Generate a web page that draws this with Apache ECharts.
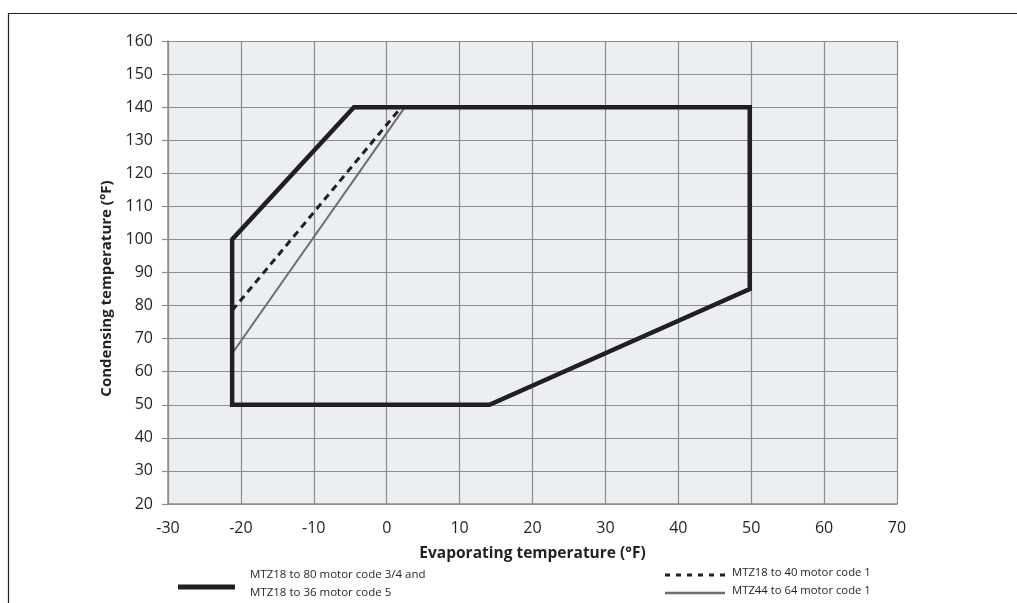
<!DOCTYPE html>
<html>
<head>
<meta charset="utf-8">
<script src="https://cdn.jsdelivr.net/npm/echarts@6/dist/echarts.min.js"></script>
<style>
html,body{margin:0;padding:0;background:#fff;}
#chart{width:1017px;height:603px;}
</style>
</head>
<body>
<div id="chart"></div>
<script>
// Data (°F)
const envelopeName = 'MTZ18 to 80 motor code 3/4 and\nMTZ18 to 36 motor code 5';
const envelopeX = [-21.2, -21.2, -4.5, 49.8, 49.8, 14.1, -21.2];
const envelopeY = [50, 100, 140, 140, 85, 50, 50];

const dashedName = 'MTZ18 to 40 motor code 1';
const dashedX = [-21.2, 2.0];
const dashedY = [78.5, 140];

const grayName = 'MTZ44 to 64 motor code 1';
const grayX = [-21.2, 2.5];
const grayY = [65.5, 140];

const xTicks = [-30, -20, -10, 0, 10, 20, 30, 40, 50, 60, 70];
const yTicks = [20, 30, 40, 50, 60, 70, 80, 90, 100, 110, 120, 130, 140, 150, 160];

const zip = (xs, ys) => xs.map((x, i) => [x, ys[i]]);

const chart = echarts.init(document.getElementById('chart'));
const FONT = '"Open Sans", "Noto Sans", sans-serif';

chart.setOption({
  animation: false,
  backgroundColor: '#ffffff',
  grid: {
    left: 168, right: 120, top: 41, bottom: 99,
    show: true, backgroundColor: '#ebeff2', borderWidth: 0
  },
  xAxis: {
    type: 'value',
    min: xTicks[0], max: xTicks[xTicks.length - 1], interval: 10,
    name: 'Evaporating temperature (°F)',
    nameLocation: 'middle', nameGap: 42,
    nameTextStyle: { fontFamily: FONT, fontSize: 15.5, fontWeight: 'bold', color: '#231f20' },
    axisLine: { show: true, onZero: false, lineStyle: { color: '#8a8c8e', width: 1.5 } },
    axisTick: { show: false },
    axisLabel: { fontFamily: FONT, fontSize: 16, color: '#231f20', margin: 16 },
    splitLine: { show: true, lineStyle: { color: '#8a8c8e', width: 1.2 } }
  },
  yAxis: {
    type: 'value',
    min: yTicks[0], max: yTicks[yTicks.length - 1], interval: 10,
    name: 'Condensing temperature (°F)',
    nameLocation: 'middle', nameGap: 46, nameRotate: 90,
    nameTextStyle: { fontFamily: FONT, fontSize: 15, fontWeight: 'bold', color: '#231f20',
                     padding: [0, 32, 0, 0] },
    axisLine: { show: true, onZero: false, lineStyle: { color: '#8a8c8e', width: 1.5 } },
    axisTick: { show: true, length: 6, lineStyle: { color: '#8a8c8e', width: 1.2 } },
    axisLabel: { fontFamily: FONT, fontSize: 16, color: '#231f20', margin: 15 },
    splitLine: { show: true, lineStyle: { color: '#8a8c8e', width: 1.2 } }
  },
  series: [
    {
      name: grayName, type: 'line', data: zip(grayX, grayY),
      symbol: 'none', lineStyle: { color: '#6d6e71', width: 2 }, z: 3
    },
    {
      name: dashedName, type: 'line', data: zip(dashedX, dashedY),
      symbol: 'none', lineStyle: { color: '#231f20', width: 3, type: [7, 5] }, z: 4
    },
    {
      name: envelopeName, type: 'line', data: zip(envelopeX, envelopeY),
      symbol: 'none', lineStyle: { color: '#231f20', width: 4.5, join: 'miter', cap: 'square' }, z: 5
    }
  ],
  graphic: [
    { type: 'rect', left: 6, top: 11, shape: { width: 1100, height: 700 },
      style: { fill: 'none', stroke: '#231f20', lineWidth: 1.2 }, silent: true },
    // legend 1
    { type: 'line', shape: { x1: 178, y1: 587, x2: 235, y2: 587 },
      style: { stroke: '#231f20', lineWidth: 5 } },
    { type: 'text', left: 250, top: 566,
      style: { text: envelopeName, fontFamily: FONT, fontSize: 11.5, fill: '#231f20', lineHeight: 18 } },
    // legend 2
    { type: 'line', shape: { x1: 665, y1: 575, x2: 725, y2: 575 },
      style: { stroke: '#231f20', lineWidth: 3, lineDash: [5, 6] } },
    { type: 'text', left: 732, top: 567,
      style: { text: dashedName, fontFamily: FONT, fontSize: 11.3, fill: '#231f20' } },
    // legend 3
    { type: 'line', shape: { x1: 665, y1: 593, x2: 725, y2: 593 },
      style: { stroke: '#6d6e71', lineWidth: 2.5 } },
    { type: 'text', left: 732, top: 585,
      style: { text: grayName, fontFamily: FONT, fontSize: 11.3, fill: '#231f20' } }
  ]
});
</script>
</body>
</html>
